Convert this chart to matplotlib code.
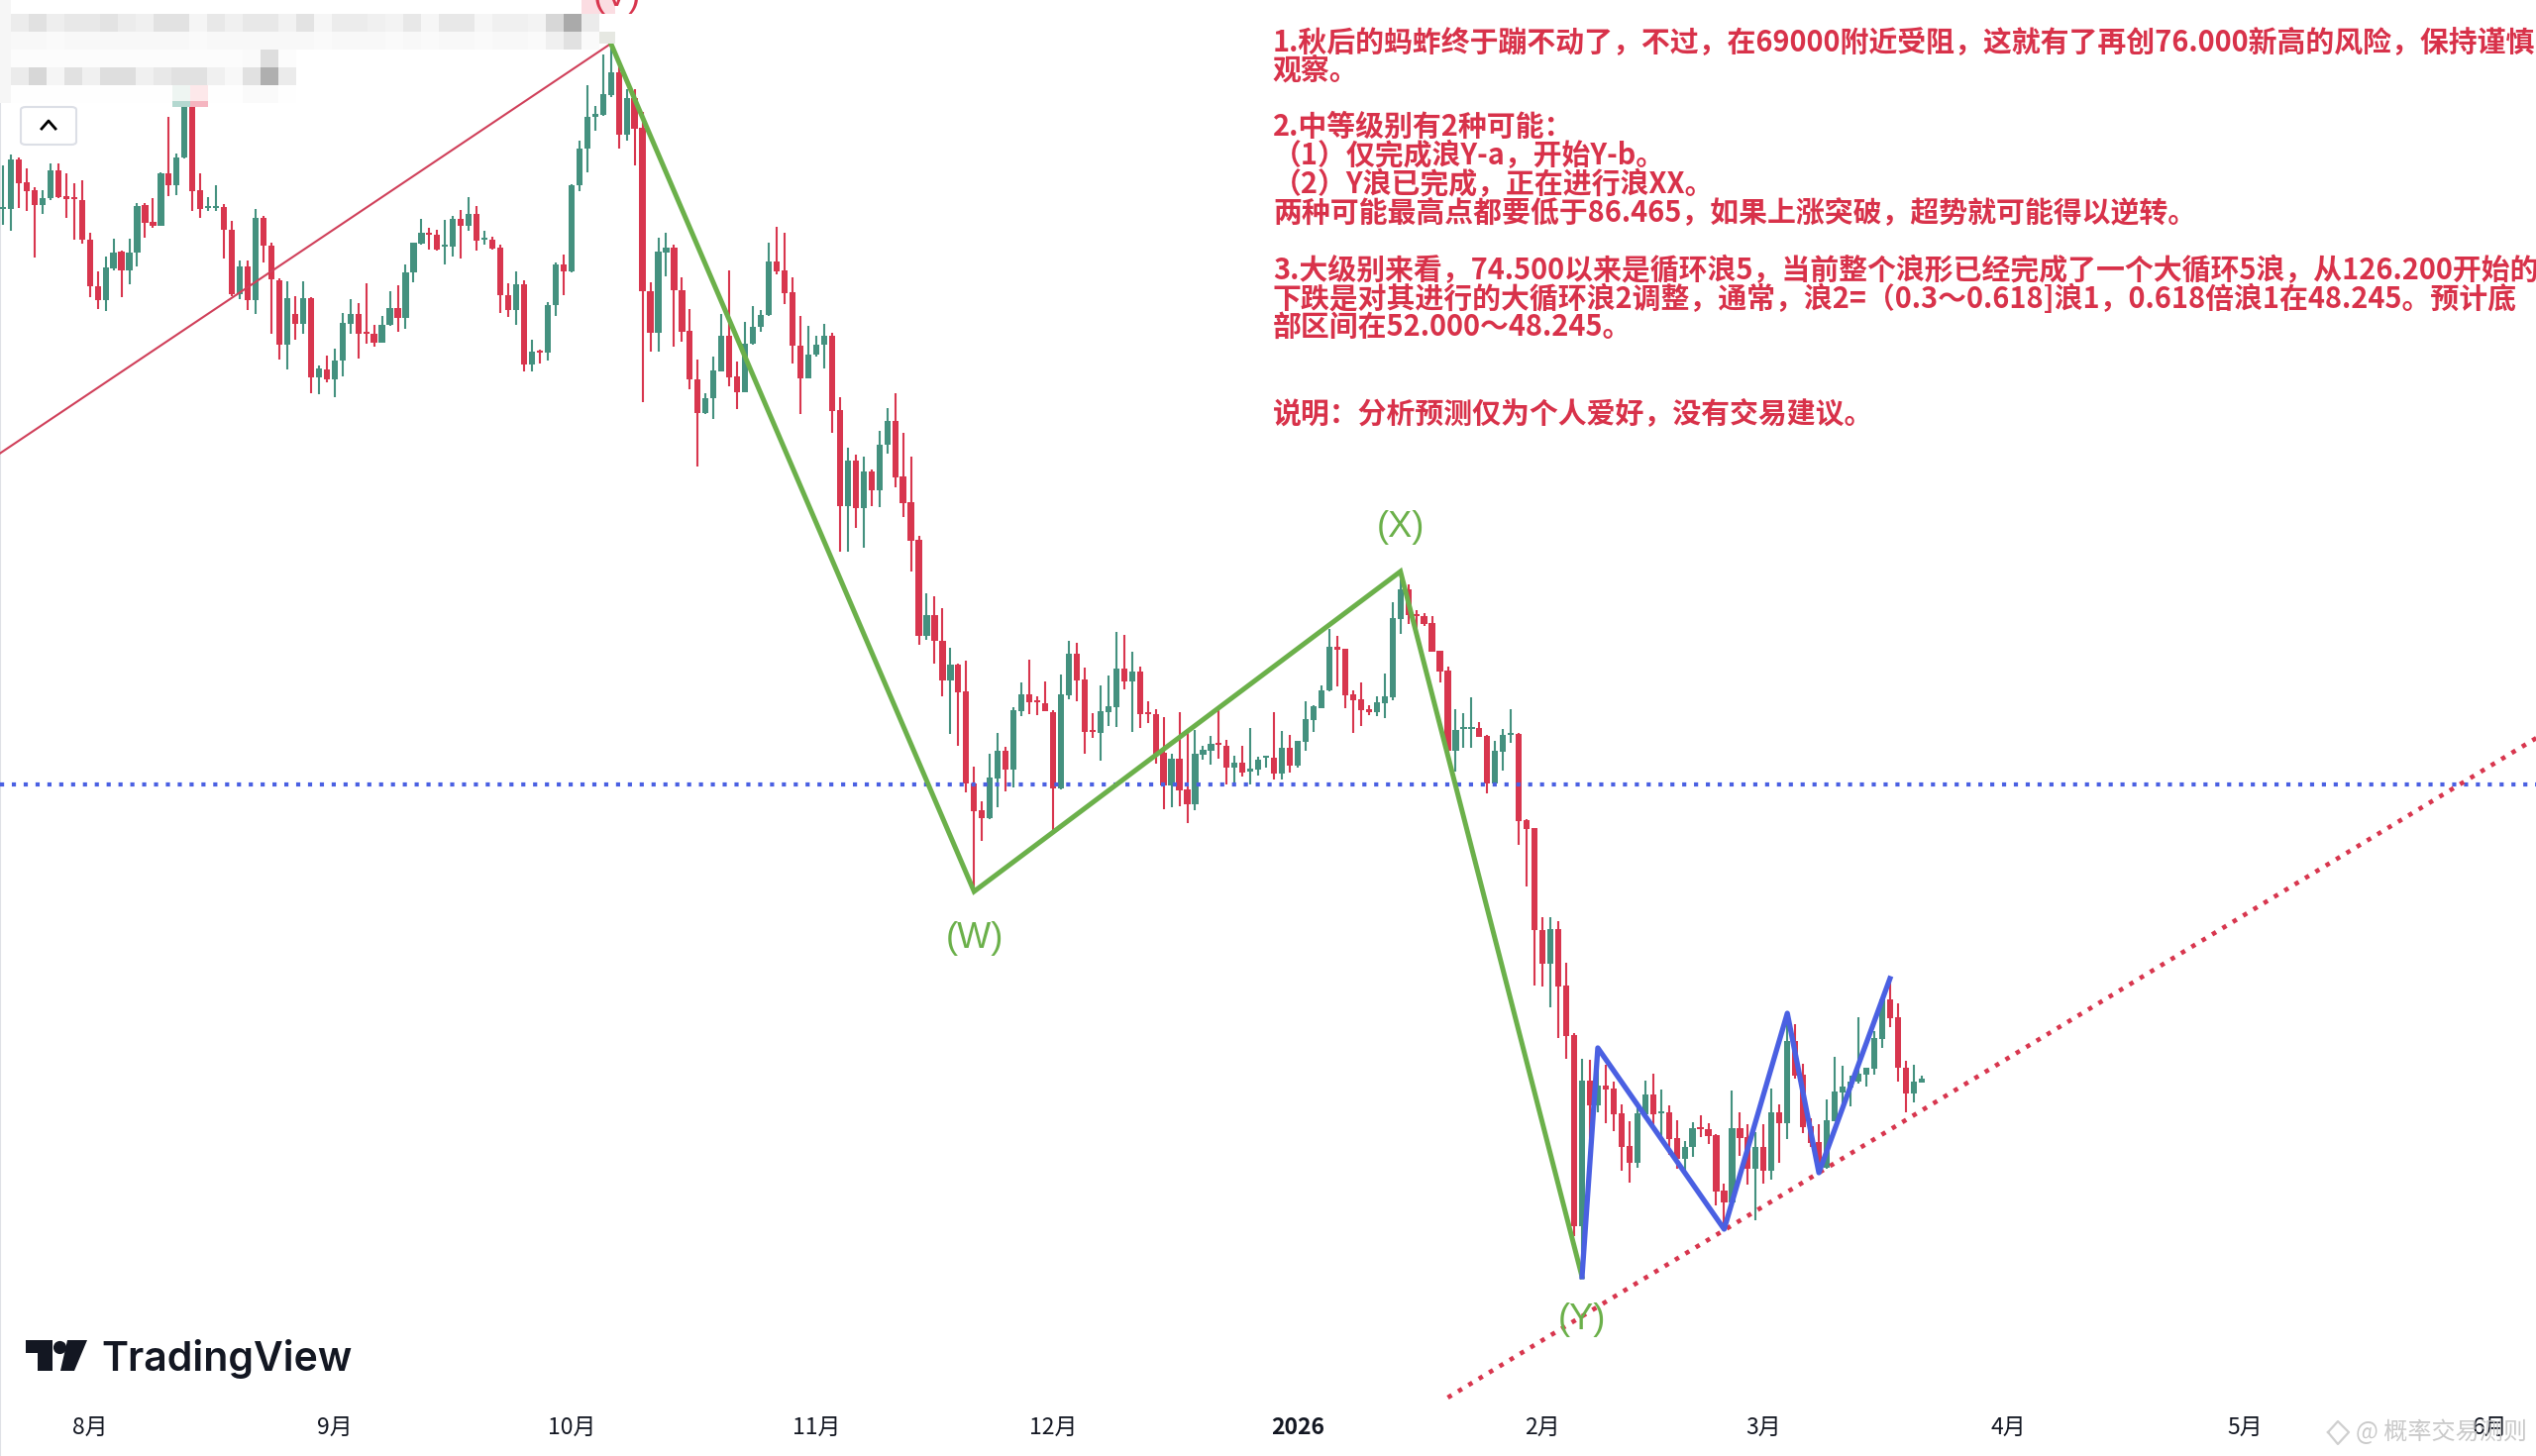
# -*- coding: utf-8 -*-
import numpy as np
import pandas as pd
import matplotlib
matplotlib.use("Agg")
import matplotlib.pyplot as plt
import matplotlib.dates as mdates
from matplotlib.lines import Line2D
from matplotlib.patches import FancyBboxPatch, Polygon, Rectangle

W, H = 2560, 1470
plt.rcParams['font.family'] = ['Noto Sans CJK SC', 'DejaVu Sans']

# daily candles, levels (no price scale is shown, so
# the axis runs downward in chart rows)
first_day = '2025-07-21'
directions = ("uuddduuddd" "dddUUdUUdd" "UdUUddUUdd" "UdUdddUdUd"
              "UdUUUdddUU" "dUUUddUUdU" "dUdddUdUdU" "UdUUUUUUdU"
              "dddUUddddU" "UUddUUUUdd" "ddUUUddUdU" "dUUddddUdd"
              "UddddUUdUU" "ddddUUdddU" "UUdUddddUd" "dUUUddUdUU"
              "UdUdUUUUUd" "ddddUUUUdd" "ddddUUUddU" "UUddddUddd"
              "UdUddddUUd" "UddUUddddU" "ddUdUdUddd" "dUUUUUUUUd" "ddUU").lower()

wick_top = [
    167,156,159,170,189,192,165,165,175,185,
    182,235,274,259,241,253,241,205,205,200,
    174,118,155,90,95,175,199,187,206,223,
    263,263,211,218,245,281,284,299,284,300,
    369,359,352,316,302,306,286,328,319,294,
    288,267,245,221,230,232,222,218,212,199,
    208,233,239,247,286,274,283,343,353,305,
    265,257,186,142,86,107,55,45,63,90,
    90,113,285,240,235,247,280,312,363,397,
    360,317,273,365,325,309,313,245,229,235,
    280,319,329,339,327,336,401,452,459,461,
    474,435,412,397,437,461,541,599,602,614,
    654,670,667,774,809,761,740,754,714,689,
    666,703,688,717,681,647,649,674,720,692,
    682,638,641,658,673,708,716,724,761,719,
    737,737,753,743,714,747,763,753,735,764,
    763,719,738,742,748,708,712,692,635,642,
    655,697,689,712,703,680,608,585,590,616,
    619,622,657,673,716,720,704,729,742,748,
    736,716,740,827,836,926,926,930,972,1043,
    1069,1070,1058,1075,1092,1115,1132,1112,1091,1084,
    1100,1116,1131,1152,1133,1126,1134,1145,1195,1101,
    1123,1135,1143,1135,1099,1115,1023,1034,1074,1129,
    1135,1110,1067,1076,1086,1027,1078,1041,1008,988,
    1013,1071,1075,1086]
body_top = [
    209,161,161,184,192,200,172,172,198,199,
    202,242,289,270,255,254,255,208,207,224,
    175,175,159,103,103,192,208,208,209,232,
    269,269,220,220,248,283,301,317,301,301,
    372,373,364,326,317,317,335,337,328,311,
    311,275,245,235,235,237,247,221,221,216,
    216,240,242,250,298,287,287,355,354,308,
    267,267,187,150,118,115,95,73,73,99,
    99,129,294,254,250,250,293,334,383,402,
    374,339,339,380,347,330,318,264,264,273,
    295,349,358,348,339,339,414,465,465,476,
    476,449,425,425,481,507,545,621,621,647,
    671,671,698,791,818,785,758,758,717,701,
    701,707,710,719,701,660,660,686,737,718,
    713,675,675,678,678,719,721,760,766,766,
    797,761,757,751,750,753,770,770,776,767,
    763,765,755,755,748,726,713,697,653,653,
    655,701,706,716,709,703,624,595,595,620,
    622,629,657,677,737,734,734,735,743,758,
    742,740,741,828,836,939,938,938,995,1045,
    1091,1091,1096,1096,1099,1124,1157,1124,1105,1105,
    1122,1123,1149,1158,1139,1138,1140,1146,1202,1139,
    1139,1148,1158,1158,1123,1123,1051,1051,1085,1137,
    1153,1131,1102,1097,1092,1084,1078,1048,1009,1009,
    1027,1078,1092,1089]
body_bot = [
    211,211,185,193,207,207,200,199,201,201,
    242,289,303,303,271,273,273,255,225,228,
    228,187,187,159,193,211,210,210,232,297,
    297,303,303,248,282,348,348,327,327,381,
    381,383,383,364,327,337,337,346,346,328,
    321,321,275,246,237,252,249,249,228,228,
    243,242,251,298,313,313,368,368,356,356,
    308,274,274,187,150,118,116,96,136,136,
    130,294,336,336,255,293,335,383,417,417,
    402,375,381,396,396,347,330,318,274,296,
    349,382,382,358,348,415,511,511,513,513,
    495,495,449,482,508,546,642,642,647,687,
    687,699,791,819,826,826,786,777,777,718,
    709,709,718,796,796,702,687,739,739,740,
    719,714,688,688,721,721,761,793,793,798,
    812,812,762,758,752,775,775,780,779,777,
    765,781,781,773,773,749,727,715,697,656,
    702,707,717,719,719,710,704,625,621,621,
    630,658,678,758,758,736,736,744,791,791,
    759,742,829,837,939,973,973,996,1046,1238,
    1238,1116,1116,1100,1125,1158,1174,1174,1125,1125,
    1124,1150,1170,1170,1158,1140,1147,1203,1214,1214,
    1149,1180,1180,1182,1182,1134,1134,1086,1138,1154,
    1179,1179,1132,1103,1098,1092,1085,1079,1049,1028,
    1078,1104,1104,1093]
wick_bot = [
    227,233,210,213,260,216,202,200,220,242,
    246,300,312,314,273,300,287,269,240,230,
    228,198,197,160,213,220,213,213,261,299,
    302,313,317,265,337,363,373,343,337,397,
    398,386,401,380,337,362,347,350,346,329,
    335,332,285,247,252,253,267,259,261,233,
    253,247,252,316,320,328,375,375,367,364,
    319,298,275,193,174,132,117,98,150,142,
    167,406,355,355,279,350,345,393,471,418,
    423,375,390,413,396,348,335,319,277,307,
    367,418,382,360,372,437,557,557,533,553,
    511,512,458,492,522,577,651,646,670,703,
    741,753,800,899,849,827,815,799,795,723,
    721,722,718,842,797,706,708,761,745,768,
    733,734,696,739,735,730,771,817,815,814,
    831,818,767,772,766,792,793,784,792,783,
    775,787,787,780,775,758,739,715,698,693,
    715,740,733,722,723,725,707,640,630,645,
    632,658,689,767,779,755,755,744,801,792,
    778,750,853,895,995,996,1017,1048,1069,1248,
    1288,1152,1123,1134,1142,1182,1194,1179,1125,1138,
    1152,1166,1180,1182,1168,1148,1155,1217,1240,1215,
    1167,1196,1232,1195,1191,1174,1150,1089,1144,1158,
    1184,1180,1132,1117,1117,1094,1097,1085,1058,1037,
    1092,1123,1113,1093]

wave_days = ['2025-10-06', '2025-11-21', '2026-01-14', '2026-02-06']
wave_levels = [44, 900, 577, 1289]
sub_days = ['2026-02-06', '2026-02-08', '2026-02-24', '2026-03-04', '2026-03-08', '2026-03-17']
sub_levels = [1289, 1058, 1241, 1023, 1184, 988]
trend_days = ['2025-07-20', '2025-10-06']
trend_levels = [461, 44]
support_days = ['2026-01-20', '2026-06-10']
support_levels = [1411, 730]
resistance_level = 792

month_days = ['2025-08-01', '2025-09-01', '2025-10-01', '2025-11-01', '2025-12-01', '2026-01-01',
              '2026-02-01', '2026-03-01', '2026-04-01', '2026-05-01', '2026-06-01']
month_labels = ['8月', '9月', '10月', '11月', '12月', '2026', '2月', '3月', '4月', '5月', '6月']

note_lines = [
    '1.秋后的蚂蚱终于蹦不动了，不过，在69000附近受阻，这就有了再创76.000新高的风险，保持谨慎',
    '观察。',
    '2.中等级别有2种可能：',
    '（1）仅完成浪Y-a，开始Y-b。',
    '（2）Y浪已完成，正在进行浪XX。',
    '两种可能最高点都要低于86.465，如果上涨突破，超势就可能得以逆转。',
    '3.大级别来看，74.500以来是循环浪5，当前整个浪形已经完成了一个大循环5浪，从126.200开始的',
    '下跌是对其进行的大循环浪2调整，通常，浪2=（0.3～0.618]浪1，0.618倍浪1在48.245。预计底',
    '部区间在52.000～48.245。',
    '说明：分析预测仅为个人爱好，没有交易建议。',
]
note_rows = [43, 71, 128, 157, 186, 215, 273, 302, 330, 417]

# pixelated block over the top left corner, grey level per cell
mask_upper = [
    [236,225,238,232,232,228,236,240,226,226,245,232,240,232,232,242,228,246,236,236,240,244,232,246,232,232,246,240,240,244,215,170,235],
    [248,248,250,248,248,248,248,248,248,248,250,248,248,248,248,248,248,250,248,248,248,250,248,250,248,248,250,248,248,250,240,225,250],
]
mask_lower = [
    [252,252,252,252,252,252,252,252,252,252,252,252,252,250,222,252],
    [235,215,245,225,240,222,222,240,232,225,225,240,248,225,175,235],
    [254,254,254,254,254,254,254,254,254,254,254,254,254,250,250,254],
]

GREEN = '#44917f'
RED = '#d8364e'
WAVE_GREEN = '#6bb04a'
WAVE_BLUE = '#4a60e2'
TEXT_RED = '#d8324a'
INK = '#131722'


def fx(x):
    return x / W


def fy(y):
    return 1 - y / H


def day(d):
    return mdates.date2num(pd.Timestamp(d))


def block(x, y, w, h, color, zorder=3):
    # flat rectangle given from the top left, in picture pixels
    fig.add_artist(Rectangle((fx(x), fy(y + h)), w / W, h / H, transform=fig.transFigure,
                             facecolor=color, edgecolor='none', zorder=zorder))


def mask(cells, x, y, w, h):
    m = fig.add_axes([fx(x), fy(y + h), w / W, h / H], zorder=2)
    m.imshow(np.array(cells), cmap='gray', vmin=0, vmax=255, aspect='auto', interpolation='nearest')
    m.axis('off')


fig = plt.figure(figsize=(W / 100, H / 100), dpi=100, facecolor='white')
ax = fig.add_axes([0, 0, 1, 1])

days = mdates.date2num(pd.date_range(first_day, periods=len(wick_top)))
up = np.array([c == 'u' for c in directions])
colors = np.where(up, GREEN, RED)
wick_top = np.array(wick_top)
wick_bot = np.array(wick_bot)
body_top = np.array(body_top)
body_bot = np.array(body_bot)

ax.vlines(days, wick_top, wick_bot, colors=colors, linewidth=1.5, zorder=2)
ax.bar(days, np.maximum(body_bot - body_top, 2), bottom=body_top, width=0.78, color=colors, zorder=3)

ax.axhline(resistance_level, color=WAVE_BLUE, linewidth=3, linestyle=(0, (1, 1.87)), zorder=4)
ax.plot([day(d) for d in trend_days], trend_levels, color='#d0405a', linewidth=1.5, zorder=4)
ax.plot([day(d) for d in support_days], support_levels, color=RED, linewidth=3.3,
        linestyle=(0, (1, 1.66)), zorder=4)
ax.plot([day(d) for d in wave_days], wave_levels, color=WAVE_GREEN, linewidth=3.6, zorder=5,
        solid_joinstyle='miter')
ax.plot([day(d) for d in sub_days], sub_levels, color=WAVE_BLUE, linewidth=3.8, zorder=6)

# first candle sits 3 px in, 7.97 px per day
ax.set_xlim(days[0] - 3 / 7.97, days[0] + (W - 3) / 7.97)
ax.set_ylim(H, 0)
ax.set_yticks([])
ax.set_xticks([day(d) for d in month_days])
ax.set_xticklabels(month_labels, fontsize=16.5, color=INK)
ax.tick_params(axis='x', length=0, pad=-29)
ax.get_xticklabels()[5].set_fontweight('bold')
for name, spine in ax.spines.items():
    spine.set_visible(name == 'left')
    spine.set_color('#dfe1e6')

# notes
for line, row in zip(note_lines, note_rows):
    fig.text(fx(1285), fy(row), line, color=TEXT_RED, fontsize=20.8, fontweight='bold',
             ha='left', va='center')

# wave labels
for label, x, y, col in [('(W)', 984, 948, WAVE_GREEN), ('(X)', 1414, 532, WAVE_GREEN),
                         ('(Y)', 1597, 1332, WAVE_GREEN), ('(V)', 623, -4, RED)]:
    fig.text(fx(x), fy(y), label, color=col, fontsize=26, ha='center', va='center',
             family=['Liberation Sans'])

# mask over the symbol header
block(0, 0, 587, 14, 'white', zorder=1)
block(587, 0, 34, 14, '#fbdde2', zorder=1)
block(0, 0, 11, 104, '#f6f6f6', zorder=1)
mask(mask_upper, 11, 14, 594, 36)
mask(mask_lower, 11, 50, 288, 54)
block(605, 32, 16, 12, '#e6e8e2', zorder=1)
block(174, 86, 18, 16, '#eef5f2')
block(192, 86, 18, 16, '#fde8ea')
block(174, 102, 18, 6, '#b4d8d0')
block(192, 102, 18, 6, '#f5b5c0')

# collapse button
fig.add_artist(FancyBboxPatch((fx(21), fy(146)), 56 / W, 38 / H, boxstyle='round,pad=0,rounding_size=0.002',
                              transform=fig.transFigure, facecolor='white', edgecolor='#dcdfe6',
                              linewidth=1.5, zorder=3))
fig.add_artist(Line2D([fx(42), fx(49), fx(56)], [fy(130), fy(122), fy(130)], color='black',
                      linewidth=2, zorder=4))

# TradingView logo
fig.add_artist(Polygon([(fx(26), fy(1353)), (fx(53), fy(1353)), (fx(53), fy(1384)), (fx(38), fy(1384)),
                        (fx(38), fy(1366)), (fx(26), fy(1366))], transform=fig.transFigure,
                       facecolor=INK, edgecolor='none', zorder=3))
fig.add_artist(Polygon([(fx(68), fy(1353)), (fx(88), fy(1353)), (fx(75), fy(1384)), (fx(61), fy(1384))],
                       transform=fig.transFigure, facecolor=INK, edgecolor='none', zorder=3))
fig.add_artist(Line2D([fx(60)], [fy(1360)], marker='o', markersize=8.5, color=INK, zorder=3))
fig.text(fx(102), fy(1384), 'TradingView', color=INK, fontsize=29.5, fontweight='semibold',
         family=['Inter'], ha='left', va='baseline')

# watermark
fig.add_artist(Line2D([fx(2350), fx(2360), fx(2371), fx(2360), fx(2350)],
                      [fy(1446), fy(1435), fy(1446), fy(1458), fy(1446)], color='#cfcfcf',
                      linewidth=1.6, zorder=3))
fig.text(fx(2378), fy(1446), '@ 概率交易测则', color='#c4c4c4', fontsize=17.4, ha='left', va='center',
         alpha=0.9)

fig.savefig('out.png', dpi=100, facecolor='white')
